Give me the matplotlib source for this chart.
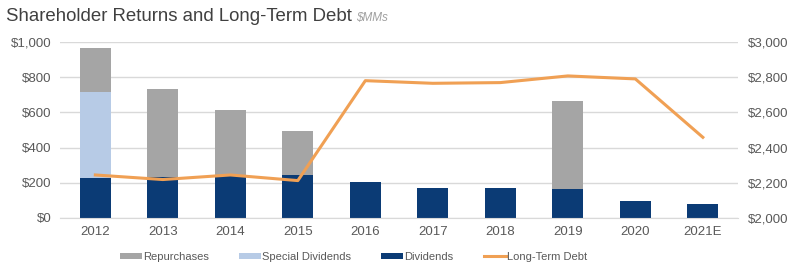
import numpy as np
import matplotlib.pyplot as plt
from matplotlib.ticker import FuncFormatter

plt.rcParams['font.family'] = ['Liberation Sans', 'DejaVu Sans']

years = ['2012', '2013', '2014', '2015', '2016', '2017', '2018', '2019', '2020', '2021E']
dividends = [229, 235, 238, 244, 206, 172, 172, 163, 97, 80]
special_dividends = [489, 0, 0, 0, 0, 0, 0, 0, 0, 0]
repurchases = [246, 498, 374, 250, 0, 0, 0, 502, 0, 0]
long_term_debt = [2244, 2218, 2244, 2212, 2780, 2765, 2769, 2807, 2790, 2458]

c_div = '#0b3b75'
c_spec = '#b7cbe6'
c_rep = '#a5a5a5'
c_debt = '#f0a054'
c_text = '#595959'

fig = plt.figure(figsize=(8.03, 2.69), dpi=100)
ax = fig.add_axes([0.075, 0.19, 0.844, 0.654])
ax2 = ax.twinx()

x = np.arange(len(years))
w = 0.46
div = np.array(dividends)
spec = np.array(special_dividends)
rep = np.array(repurchases)
b1 = ax.bar(x, div, w, color=c_div, zorder=2)
b2 = ax.bar(x, spec, w, bottom=div, color=c_spec, zorder=2)
b3 = ax.bar(x, rep, w, bottom=div + spec, color=c_rep, zorder=2)
l1, = ax2.plot(x, long_term_debt, color=c_debt, lw=2.2, zorder=3)

ax.set_ylim(0, 1000)
ax.set_yticks(range(0, 1001, 200))
ax2.set_ylim(2000, 3000)
ax2.set_yticks(range(2000, 3001, 200))
ax.set_xlim(-0.52, len(years) - 0.48)
ax.yaxis.set_major_formatter(FuncFormatter(lambda v, p: '${:,.0f}'.format(v)))
ax2.yaxis.set_major_formatter(FuncFormatter(lambda v, p: '${:,.0f}'.format(v)))
ax.set_xticks(x)
ax.set_xticklabels(years)

ax.grid(axis='y', color='#d9d9d9', lw=1, zorder=0)
ax.set_axisbelow(True)
for a in (ax, ax2):
    for s in a.spines.values():
        s.set_visible(False)
    a.tick_params(length=0, labelsize=9.5, colors=c_text, pad=6)
ax.spines['bottom'].set_visible(True)
ax.spines['bottom'].set_color('#d9d9d9')
ax2.tick_params(axis='y', pad=7)

fig.text(0.007, 0.937, 'Shareholder Returns and Long-Term Debt', fontsize=13.4, color='#404040', va='center')
fig.text(0.443, 0.932, '$MMs', fontsize=8.5, color='#a0a0a0', style='italic', va='center')

fig.legend([b3, b2, b1, l1], ['Repurchases', 'Special Dividends', 'Dividends', 'Long-Term Debt'],
           loc='center', bbox_to_anchor=(0.44, 0.045), ncol=4, frameon=False, fontsize=8,
           labelcolor=c_text, handlelength=2.0, handleheight=0.5, handletextpad=0.1, columnspacing=2.7)

fig.savefig('out.png', dpi=100)
